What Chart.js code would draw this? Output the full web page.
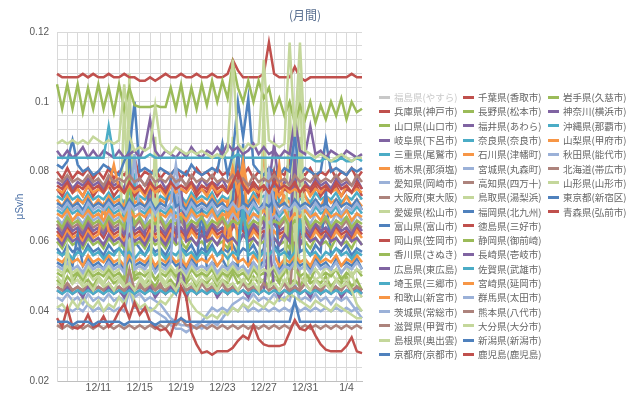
<!DOCTYPE html>
<html><head><meta charset="utf-8">
<script src="https://cdn.jsdelivr.net/npm/chart.js@4"></script>
<style>
html,body{margin:0;padding:0;background:#fff;overflow:hidden;}
#wrap{position:relative;width:640px;height:395px;}
#c{position:absolute;left:0;top:0;}
#legend{position:absolute;left:379px;top:90px;display:grid;grid-template-rows:repeat(19,14.3px);grid-auto-flow:column;grid-template-columns:84px 85px 85px;font-family:"Noto Sans CJK JP";font-size:9.5px;color:#666666;}
.item{display:flex;align-items:center;white-space:nowrap;}
.mk{width:11px;height:3px;margin-right:4px;flex:none;}
</style></head>
<body><div id="wrap"><canvas id="c" width="640" height="395"></canvas><div id="legend"></div></div>
<script>
// x categories: two readings per day
const dates = ['12/7','12/8','12/9','12/10','12/11','12/12','12/13','12/14','12/15','12/16','12/17','12/18','12/19','12/20','12/21','12/22','12/23','12/24','12/25','12/26','12/27','12/28','12/29','12/30','12/31','1/1','1/2','1/3','1/4','1/5'];
const hours = ['0時','12時'];
const tickDates = ['12/11','12/15','12/19','12/23','12/27','12/31','1/4'];
const yTickLabels = [0.02,0.04,0.06,0.08,0.1,0.12];

// series values in nSv/h (shown on the chart in μSv/h)
const fukushima = []; // hidden series (not readable)
const hyogo = [80,78,81,78,80,79,81,78,80,78,
81,78,80,79,81,84,78,80,79,81,
78,80,79,81,78,80,78,81,79,80,
78,81,79,80,78,82,79,81,78,80,
79,81,78,80,79,83,78,80,79,81,
78,80,79,81,78,80,79,81,78,80];
const yamaguchi = [49,47,50,48,51,48,49,47,50,48,
50,48,49,47,58,49,50,48,49,47,
50,48,49,47,52,48,50,47,49,48,
50,47,49,48,51,48,49,47,50,48,
49,47,50,48,55,48,49,47,50,48,
49,48,50,47,49,48,50,47,49,46];
const gifu = [77,76,78,75,77,76,78,76,77,75,
78,76,77,75,82,76,78,76,77,76,
78,75,77,76,78,76,77,75,78,76,
77,76,78,75,77,76,78,76,77,75,
78,76,88,75,77,76,85,76,77,75,
78,76,77,75,78,76,77,76,78,75];
const mie = [73,72,74,72,73,71,74,72,73,72,
74,72,73,71,74,72,73,72,74,71,
73,72,74,72,73,71,74,72,73,72,
74,71,73,72,74,72,73,71,74,72,
73,72,80,71,73,72,74,72,73,71,
74,72,73,72,74,71,73,72,74,72];
const tochigi = [72,70,73,70,72,71,73,70,72,70,
73,71,72,70,76,71,72,70,73,70,
72,71,73,70,72,70,73,71,72,70,
73,70,72,71,73,70,72,70,73,71,
85,71,72,70,73,71,72,80,73,70,
72,70,73,71,72,70,73,70,72,70];
const aichi = [44,43,45,43,44,42,45,43,44,43,
45,43,44,43,50,44,45,43,44,43,
42,40,38,37,36,36,35,36,35,36,
37,36,38,40,42,43,44,43,45,43,
44,43,45,43,44,43,48,43,44,43,
45,43,44,42,44,43,44,42,40,38];
const osaka = [65,63,66,64,65,63,66,64,65,63,
66,64,65,63,68,64,66,63,65,64,
66,63,65,64,66,63,65,64,66,63,
65,64,66,63,65,72,66,63,65,64,
66,74,65,64,66,63,65,64,66,63,
65,64,66,63,65,64,66,63,65,64];
const ehime = [50,48,55,49,52,48,51,49,50,48,
51,49,50,48,108,52,50,48,51,49,
50,48,51,49,62,49,50,48,51,49,
50,48,51,49,90,50,48,51,49,50,
48,51,49,50,48,51,80,50,48,51,
49,50,48,51,49,50,48,51,46,44];
const toyama = [58,56,59,57,58,56,59,57,58,56,
59,57,58,56,85,60,58,56,59,57,
58,56,59,78,58,57,59,56,58,57,
59,56,58,57,59,56,58,57,59,56,
58,72,59,57,58,56,95,57,58,56,
59,57,75,56,58,57,59,56,58,57];
const okayama = [63,61,64,62,63,61,64,62,63,61,
64,62,63,61,64,62,63,61,64,62,
63,61,64,62,63,61,64,62,63,61,
64,62,63,61,64,78,63,61,64,62,
63,61,76,62,63,61,64,62,63,61,
64,62,63,61,64,62,63,61,64,62];
const kagawa = [60,58,61,59,60,58,61,59,60,58,
61,59,60,58,66,59,60,58,61,59,
60,58,61,59,60,58,61,59,60,58,
61,59,60,58,61,59,70,58,61,59,
60,58,61,59,60,58,68,59,60,58,
61,59,60,58,61,59,60,58,61,59];
const hiroshima = [64,62,65,63,64,62,65,63,64,62,
65,63,64,62,65,63,64,62,78,63,
64,62,65,63,64,62,65,63,64,62,
65,63,64,62,65,63,64,62,65,63,
64,80,65,63,64,62,65,63,64,62,
65,63,64,62,65,63,64,62,65,63];
const saitama = [69,68,70,68,69,67,70,68,69,68,
70,68,69,67,70,78,69,68,70,67,
69,68,70,68,69,67,70,68,69,68,
70,67,69,68,70,68,69,67,70,68,
69,68,70,67,69,68,80,68,69,67,
70,68,69,68,70,67,69,68,70,68];
const wakayama = [62,60,63,61,62,60,63,61,62,70,
63,61,62,60,63,61,62,60,63,61,
62,60,63,61,62,60,63,61,62,60,
63,61,62,60,72,61,62,60,63,61,
62,60,63,61,62,70,63,61,62,60,
63,61,62,60,63,61,62,60,63,61];
const ibaraki = [41,40,41,40,41,40,42,40,41,40,
41,40,41,40,46,41,41,40,41,40,
39,38,36,35,35,34,35,36,37,39,
41,40,41,40,41,40,42,40,41,40,
41,40,41,40,41,40,42,40,41,40,
41,40,41,40,41,40,41,40,41,40];
const shiga = [47,46,48,46,47,45,48,46,47,46,
48,46,47,45,52,46,48,46,47,46,
48,45,47,46,50,46,47,45,48,46,
47,46,48,45,47,46,48,46,47,45,
48,46,47,46,48,45,62,46,48,46,
47,45,48,46,47,46,48,45,47,46];
const shimane = [41,42,40,43,41,44,42,41,43,40,
42,41,44,42,47,43,41,42,40,41,
43,42,44,46,50,45,42,40,39,38,
39,38,40,39,41,40,42,41,43,42,
41,43,42,44,43,45,44,43,42,41,
43,42,41,40,42,41,40,39,38,38];
const kyoto = [54,53,55,53,62,53,55,53,54,52,
55,53,54,52,55,53,54,53,55,52,
54,53,55,53,54,52,55,53,70,52,
54,53,55,52,54,53,88,53,54,52,
55,53,80,52,54,53,55,53,54,52,
55,53,54,52,55,53,54,53,55,52];
const chiba = [108,107,107,107,107,108,107,108,107,107,
108,107,107,108,107,107,106,106,107,106,
107,108,107,107,108,107,107,108,107,107,
108,107,107,108,112,109,107,107,107,107,
108,117,108,107,107,107,110,107,106,107,
107,107,107,107,107,107,107,108,107,107];
const nagano = [51,50,52,50,51,49,52,50,51,50,
52,50,51,49,65,50,51,50,52,49,
51,50,52,50,51,49,52,50,51,50,
52,49,51,50,52,50,51,49,52,50,
51,50,52,49,51,70,52,50,51,49,
52,50,51,50,52,49,51,50,52,50];
const fukui = [46,45,47,45,46,44,47,45,46,45,
47,45,46,44,47,45,46,45,47,44,
46,45,47,45,55,44,47,45,46,45,
47,44,46,45,47,45,46,44,47,45,
46,60,47,44,46,45,47,45,46,44,
47,45,46,45,47,44,46,45,47,45];
const nara = [46,45,46,45,46,45,46,45,46,45,
46,45,46,45,46,45,46,45,46,45,
46,45,46,45,47,45,46,45,46,45,
46,45,46,45,46,45,46,45,46,45,
46,45,46,45,46,45,46,45,46,45,
46,45,46,45,46,45,46,45,46,45];
const ishikawa = [55,54,56,54,55,53,56,54,55,54,
56,54,55,53,56,54,55,54,56,53,
55,54,56,54,55,53,56,54,55,54,
56,53,55,72,56,54,55,53,56,54,
55,70,56,53,55,54,56,54,55,53,
56,54,55,54,56,53,55,54,56,54];
const miyagi = [67,65,68,66,67,65,68,66,67,65,
68,66,67,65,68,85,67,65,68,66,
67,65,68,66,67,65,68,66,67,65,
68,66,67,65,68,66,67,65,68,66,
67,65,68,66,67,65,90,66,67,65,
68,66,67,65,68,66,67,65,68,66];
const kochi = [47,46,48,46,47,46,48,46,47,46,
48,46,47,46,48,46,47,46,48,46,
47,46,48,46,49,46,47,46,48,46,
47,46,48,46,47,46,48,46,47,46,
48,46,47,46,48,46,47,46,48,46,
47,46,48,46,47,46,48,46,47,46];
const tottori = [52,51,53,51,52,50,53,51,52,51,
53,51,52,100,60,52,53,51,52,75,
52,51,53,51,52,50,53,51,52,51,
53,50,52,51,53,51,52,50,53,51,
52,51,53,50,52,100,60,108,53,51,
52,50,53,51,52,51,53,50,52,51];
const fukuoka = [82,81,83,89,82,80,81,79,80,82,
81,80,79,83,86,100,80,81,80,79,
81,80,79,81,80,79,82,80,79,80,
81,80,88,79,85,100,90,101,82,80,
79,81,80,79,81,80,90,79,81,80,
79,80,89,80,81,80,79,81,80,81];
const tokushima = [75,73,76,74,75,73,76,73,75,74,
76,73,75,74,76,73,75,74,76,73,
75,74,76,73,75,74,76,73,75,74,
76,73,75,74,76,73,75,74,76,73,
75,74,80,73,75,74,76,73,75,74,
76,73,75,74,76,73,75,74,76,73];
const shizuoka = [66,64,67,65,66,64,67,65,66,64,
67,65,66,64,78,65,67,64,66,65,
67,64,66,65,67,64,66,65,67,64,
66,65,67,64,66,65,67,64,66,65,
67,64,66,65,67,64,66,65,67,64,
66,65,67,64,66,65,67,64,66,65];
const nagasaki = [61,59,62,60,61,59,62,60,61,59,
62,60,61,59,62,60,61,59,62,60,
61,59,62,60,75,60,61,59,62,60,
61,59,62,60,61,59,62,60,61,59,
62,60,61,59,62,60,85,59,62,60,
61,59,62,60,61,59,62,60,61,59];
const saga = [57,56,57,55,57,56,58,56,57,55,
57,56,58,56,57,55,57,56,58,56,
57,55,57,56,58,56,57,55,57,56,
58,56,57,55,57,56,70,56,57,55,
57,56,58,56,57,55,57,66,58,56,
57,55,57,56,58,56,57,55,57,56];
const miyazaki = [68,67,69,66,68,67,69,67,68,66,
69,67,68,66,69,67,68,67,69,66,
68,67,69,67,68,66,69,67,68,67,
69,66,68,67,69,67,80,66,68,67,
69,67,68,82,69,66,68,67,69,67,
68,66,69,67,68,67,69,66,68,67];
const gunma = [53,52,54,52,53,51,54,52,53,52,
54,52,53,51,70,52,53,52,54,51,
53,52,54,78,53,51,54,52,53,52,
54,51,53,52,54,52,53,51,54,52,
53,75,54,51,53,52,54,52,53,51,
54,52,53,52,54,51,53,52,54,52];
const kumamoto = [36,35,36,35,36,35,36,35,36,35,
36,35,36,35,36,35,36,35,36,35,
36,35,37,36,38,36,36,35,36,35,
36,35,36,35,36,35,36,35,36,35,
36,35,36,35,36,35,37,35,36,35,
36,35,36,35,36,35,36,35,36,35];
const oita = [48,47,58,48,49,47,48,46,49,47,
48,46,49,47,48,46,49,47,48,90,
49,47,48,46,49,47,48,46,49,47,
48,46,49,47,48,46,49,47,48,46,
100,47,48,46,49,47,48,90,48,46,
49,47,48,46,49,47,48,46,42,40];
const niigata = [71,70,72,70,71,69,72,70,71,70,
72,70,71,69,72,70,71,70,72,69,
71,70,78,70,71,69,72,70,71,70,
72,70,71,69,72,86,71,70,72,69,
71,70,72,70,71,69,72,70,71,70,
72,70,71,69,72,70,71,70,72,69];
const kagoshima = [38,35.5,41,35.5,35,36,39,35.5,36,38.5,
35.5,37,40,42,38,42.5,39,41,37,35.5,
34.5,35,33,38,47,44,34,30.5,28,28.5,
27.5,28.5,28.5,28.5,29.5,31.5,33,32,36,32,
30.5,30,30,30,30.5,34,37.5,35,34.5,36,
33,30.5,29,28.5,28.5,28.5,30,32.5,28.5,28];
const iwate = [105,98,105,98,105,97,104,98,105,98,
104,97,105,98,104,99,98.5,98.5,98.5,99,
98.5,98.5,104,98,105,97,104,98,105,99,
106,100,106,101,111,104,100,106,100,106,
101,104,97,101,96,100,94,99,95,100,
94,99,95,100,96,101,95,100,97,98];
const kanagawa = [86,84,86,84,85,87,84,86,84,86,
85,84,86,84,85,86,84,87,95,86,
84,86,85,84,86,84,87,85,84,86,
85,87,85,88,86,87,85,86,88,85,
87,85,86,84,86,85,95,86,85,93,
85,86,84,86,85,84,86,85,84,85];
const okinawa = [84,84,84,84,84,84,84,84,84,84,
93,84,84,84,84,84,84,84,85,84,
84,84,84,84,84,84,84,84,84,84,
84,84,84,84,84,85,84,84,84,84,
84,84,84,84,84,84,84,84,84,84,
83,83,84,83,83,84,83,83,84,83];
const yamanashi = [75,74,76,74,75,73,76,74,75,74,
76,82,75,74,76,74,75,73,76,74,
75,73,76,74,75,74,76,74,75,73,
76,74,75,74,81,74,83,74,75,74,
76,74,75,73,76,74,75,74,76,73,
75,74,76,74,75,73,76,74,75,74];
const akita = [70,69,71,69,70,68,71,69,70,69,
71,69,70,68,71,69,70,69,71,68,
70,69,71,82,70,68,71,69,70,69,
71,68,70,69,71,69,70,68,71,69,
70,80,71,68,70,69,71,69,70,68,
71,69,70,69,71,68,70,69,71,69];
const hokkaido = [78,77,79,77,78,77,79,77,78,76,
79,77,78,77,79,77,78,76,79,77,
78,77,79,77,78,76,79,77,78,77,
79,77,78,77,79,77,78,76,79,77,
78,77,79,77,78,76,79,77,78,77,
79,77,78,77,79,77,78,76,79,77];
const yamagata = [88,89,88,89,88,89,88,90,89,88,
89,88,89,105,90,86,87,86,87,99,
88,86,85,87,86,85,86,85,86,85,
84,85,84,86,112,88,86,88,87,88,
112,89,88,87,88,117,90,117,86,85,
84,85,84,83,84,85,84,83,84,84];
const tokyo = [37,37,37,36,37,37,37,36,37,37,
37,37,37,36,37,37,37,37,37,36,
37,37,37,37,38,37,37,37,37,37,
37,37,37,37,37,37,37,37,37,37,
37,37,37,37,37,37,43,37,37,37,
37,37,37,37,37,37,37,37,37,37];
const aomori = [76,75,77,74,76,75,77,75,76,74,
77,75,76,74,77,75,76,74,77,75,
76,74,77,75,76,75,77,74,76,75,
77,75,76,74,77,80,76,74,77,75,
76,74,77,75,76,75,77,74,76,75,
77,75,76,74,77,75,76,74,77,75];

const seriesNames = ['福島県(やすら)','兵庫県(神戸市)','山口県(山口市)','岐阜県(下呂市)','三重県(尾鷲市)','栃木県(那須塩)','愛知県(岡崎市)','大阪府(東大阪)','愛媛県(松山市)','富山県(富山市)','岡山県(笠岡市)','香川県(さぬき)','広島県(東広島)','埼玉県(三郷市)','和歌山(新宮市)','茨城県(常総市)','滋賀県(甲賀市)','島根県(奥出雲)','京都府(京都市)',
'千葉県(香取市)','長野県(松本市)','福井県(あわら)','奈良県(奈良市)','石川県(津幡町)','宮城県(丸森町)','高知県(四万十)','鳥取県(湯梨浜)','福岡県(北九州)','徳島県(三好市)','静岡県(御前崎)','長崎県(壱岐市)','佐賀県(武雄市)','宮崎県(延岡市)','群馬県(太田市)','熊本県(八代市)','大分県(大分市)','新潟県(新潟市)','鹿児島(鹿児島)',
'岩手県(久慈市)','神奈川(横浜市)','沖縄県(那覇市)','山梨県(甲府市)','秋田県(能代市)','北海道(帯広市)','山形県(山形市)','東京都(新宿区)','青森県(弘前市)'];
const seriesValues = [fukushima,hyogo,yamaguchi,gifu,mie,tochigi,aichi,osaka,ehime,toyama,okayama,kagawa,hiroshima,saitama,wakayama,ibaraki,shiga,shimane,kyoto,
chiba,nagano,fukui,nara,ishikawa,miyagi,kochi,tottori,fukuoka,tokushima,shizuoka,nagasaki,saga,miyazaki,gunma,kumamoto,oita,niigata,kagoshima,
iwate,kanagawa,okinawa,yamanashi,akita,hokkaido,yamagata,tokyo,aomori];

// styles
const palette = ['#4F81BD','#C0504D','#9BBB59','#8064A2','#4BACC6','#F79646','#9BB1D8','#AD837C','#C4D79B'];
const hiddenColor = '#c8c8c8';

const categories = dates.flatMap(d => hours.map(h => d + ' ' + h));

const datasets = seriesValues.map((vals, i) => ({
  label: seriesNames[i],
  data: vals.map(v => v / 1000),
  borderColor: palette[i % palette.length],
  backgroundColor: palette[i % palette.length],
  borderWidth: 2.5,
  pointRadius: 0,
  tension: 0,
  fill: false,
  hidden: i === 0,
  order: -i
}));

const titlePlugin = {
  id: 'monthTitle',
  afterDraw(chart) {
    const c = chart.ctx;
    c.save();
    c.font = '12px "Noto Sans CJK JP"';
    c.fillStyle = '#5a7091';
    c.textAlign = 'center';
    c.textBaseline = 'middle';
    c.fillText('(月間)', 305, 15);
    c.restore();
  }
};

new Chart(document.getElementById('c'), {
  type: 'line',
  data: { labels: categories, datasets },
  plugins: [titlePlugin],
  options: {
    responsive: false,
    animation: false,
    layout: { padding: { left: 10, right: 278, top: 32, bottom: 0 } },
    plugins: { legend: { display: false }, tooltip: { enabled: false } },
    scales: {
      x: {
        type: 'category',
        afterFit: s => { s.height = 10; },
        grid: {
          drawTicks: false,
          color: ctx => (ctx.index % 2 === 0 ? '#d9d9d9' : 'rgba(0,0,0,0)'),
          lineWidth: 1
        },
        border: { color: '#bfbfbf' },
        ticks: {
          autoSkip: false, maxRotation: 0, minRotation: 0, padding: 1,
          color: '#595959', font: { family: 'Liberation Sans', size: 10.5 },
          callback: (v, idx) => {
            const [d, h] = categories[idx].split(' ');
            return (h === hours[0] && tickDates.includes(d)) ? d : '';
          }
        }
      },
      y: {
        min: 0.02, max: 0.12,
        afterFit: s => { s.width = 47; },
        grid: { drawTicks: false, color: '#d9d9d9', lineWidth: 1 },
        border: { color: '#d9d9d9' },
        title: { display: true, text: 'μSv/h', color: '#4a6fa5', font: { family: 'Liberation Sans', size: 10 } },
        ticks: {
          stepSize: 0.004, autoSkip: false, padding: 8,
          color: '#595959', font: { family: 'Liberation Sans', size: 10 },
          callback: v => {
            const hit = yTickLabels.find(t => Math.abs(t - v) < 1e-6);
            return hit === undefined ? '' : String(hit);
          }
        }
      }
    }
  }
});

// legend (column-major, 19 rows)
const lg = document.getElementById('legend');
seriesNames.forEach((name, i) => {
  const it = document.createElement('div');
  it.className = 'item';
  const mk = document.createElement('span');
  mk.className = 'mk';
  mk.style.background = i === 0 ? hiddenColor : palette[i % palette.length];
  const tx = document.createElement('span');
  tx.textContent = name;
  if (i === 0) tx.style.color = hiddenColor;
  it.appendChild(mk); it.appendChild(tx);
  lg.appendChild(it);
});
</script>
</body></html>
